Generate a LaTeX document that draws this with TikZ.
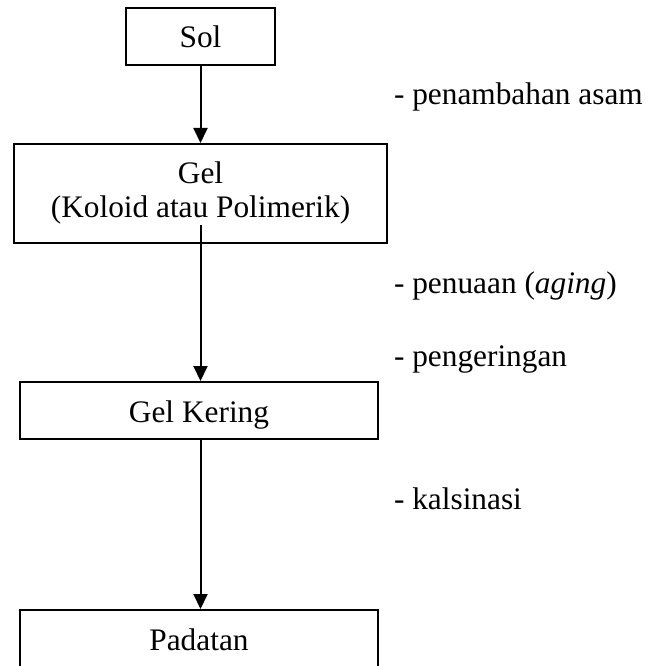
\documentclass[tikz,border=0pt]{standalone}
\usepackage{fontspec}
\setmainfont{Liberation Serif}
\usetikzlibrary{arrows.meta}
\tikzset{every picture/.style={line width=1.5pt}}
\tikzset{
  procbox/.style={draw, anchor=north, inner xsep=0pt, inner ysep=0pt, align=center,
    text height=30pt, text depth=12.75pt, font=\fontsize{23.5}{25.5}\selectfont},
  steplabel/.style={anchor=base west, inner sep=0pt, font=\fontsize{23.5}{25.5}\selectfont},
  flowarrow/.style={-{Triangle[length=11.25pt,width=10.5pt]}}
}

\begin{document}
\begin{tikzpicture}[x=0.75pt,y=0.75pt,yscale=-1,xscale=1]
\useasboundingbox (0,0) rectangle (654,666);

% Boxes
\node [procbox, minimum width=111.75pt] (sol) at (200.5,7) {Sol};
\node [procbox, minimum width=279.75pt, text height=55.5pt, text depth=18.75pt] (gel) at (200.5,143) {Gel\\(Koloid atau Polimerik)};
\node [procbox, minimum width=268.5pt] (kering) at (199,381) {Gel Kering};
\node [procbox, minimum width=268.5pt, text depth=15pt] (padatan) at (199,609) {Padatan};

% Arrows
\coordinate (gelout) at (200.5,225);
\draw [flowarrow] (sol.south) -- (gel.north);
\draw [flowarrow] (gelout) -- (gelout |- kering.north);
\draw [flowarrow] (gelout |- kering.south) -- (gelout |- padatan.north);

% Text Node
\node [steplabel] (lblasam) at (393,105) {- penambahan asam};
% Text Node
\node [steplabel] (lblaging) at (393,293) {- penuaan (\textit{aging})};
% Text Node
\node [steplabel] (lblkering) at (393,366) {- pengeringan};
% Text Node
\node [steplabel] (lblkalsin) at (393,509) {- kalsinasi};
\end{tikzpicture}
\end{document}
